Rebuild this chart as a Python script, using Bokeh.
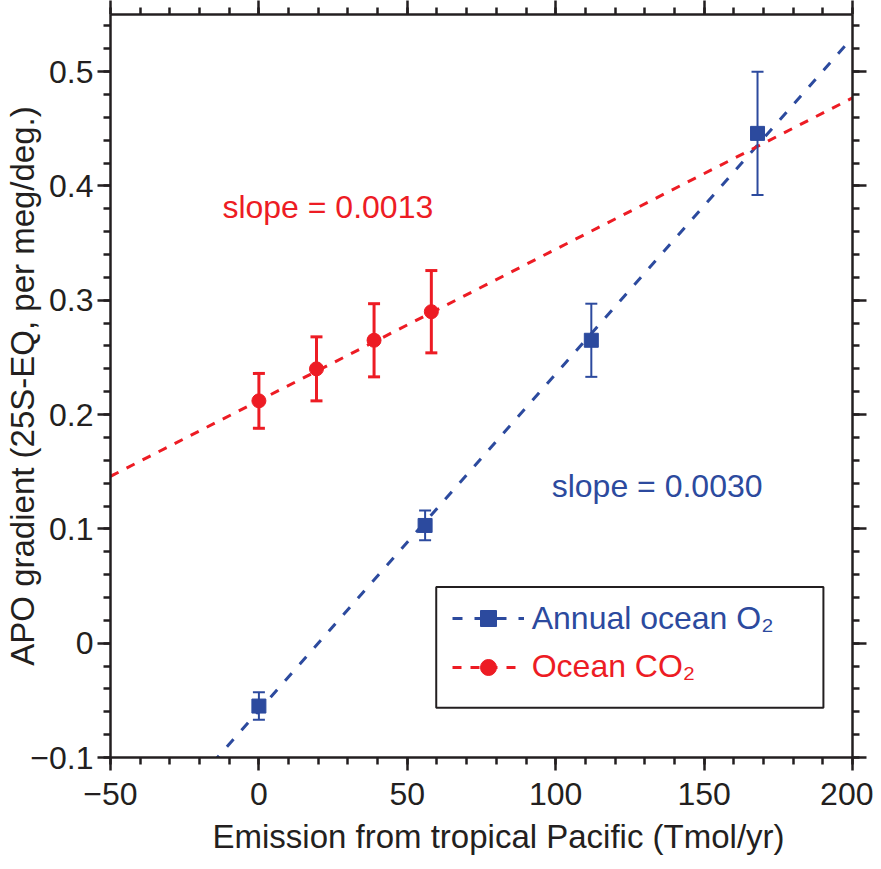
from bokeh.plotting import figure
from bokeh.models import (ColumnDataSource, Whisker, TeeHead, LinearAxis, FixedTicker,
                          Legend, LegendItem, BoxAnnotation, Label, Range1d, Title,
                          CustomLabelingPolicy)
from bokeh.embed import file_html
from bokeh.resources import INLINE

# ---------------- data ----------------
o2_emission = [0, 56, 112, 168]
o2_gradient = [-0.055, 0.103, 0.265, 0.446]
o2_error = [0.012, 0.013, 0.032, 0.054]

co2_emission = [0, 19.4, 38.8, 58.1]
co2_gradient = [0.212, 0.240, 0.265, 0.290]
co2_error = [0.024, 0.028, 0.032, 0.036]

fit_emission = [-50, 200]
o2_fit = [-0.206, 0.530]
co2_fit = [0.146, 0.477]

x_ticks = [-50, 0, 50, 100, 150, 200]
x_tick_labels = ["\u221250", "0", "50", "100", "150", "200"]
y_ticks = [-0.1, 0, 0.1, 0.2, 0.3, 0.4, 0.5]
y_tick_labels = ["\u22120.1", "0", "0.1", "0.2", "0.3", "0.4", "0.5"]
x_minor = [-50 + 10 * i for i in range(26)]
y_minor = [round(-0.1 + 0.02 * i, 4) for i in range(33)]

BLUE = "#2C4A9E"
RED = "#ED1C24"
INK = "#231F20"
FONT = "Liberation Sans"

p = figure(width=873, height=869, x_range=Range1d(-50, 200), y_range=Range1d(-0.1, 0.55),
           output_backend="svg", toolbar_location=None,
           min_border_left=110, min_border_right=21, min_border_top=14, min_border_bottom=112,
           y_axis_label="APO gradient (25S-EQ, per meg/deg.)")
p.outline_line_color = None
p.xgrid.visible = False
p.ygrid.visible = False
p.background_fill_color = "white"
p.border_fill_color = "white"

top_axis = LinearAxis()
right_axis = LinearAxis()
p.add_layout(top_axis, "above")
p.add_layout(right_axis, "right")

xt = FixedTicker(ticks=x_ticks, minor_ticks=x_minor)
yt = FixedTicker(ticks=y_ticks, minor_ticks=y_minor)

no_labels = CustomLabelingPolicy(code="""
for (const i of indices) { indices.unset(i) }
return indices
""")


def style(ax, ticker, labels, ticks, major_out, minor_out, show):
    ax.ticker = ticker
    ax.axis_line_color = INK
    ax.axis_line_width = 2.5
    ax.major_tick_line_color = INK
    ax.minor_tick_line_color = INK
    ax.major_tick_line_width = 2.5
    ax.minor_tick_line_width = 2.5
    ax.major_tick_in = 0
    ax.minor_tick_in = 0
    ax.major_tick_out = major_out
    ax.minor_tick_out = minor_out
    ax.major_label_text_font = FONT
    ax.major_label_text_color = INK
    ax.axis_label_text_font = FONT
    ax.axis_label_text_font_style = "normal"
    ax.axis_label_text_color = INK
    ax.axis_label_text_font_size = "33px"
    if show:
        ax.major_label_text_font_size = "32px"
        ax.major_label_overrides = dict(zip(ticks, labels))
    else:
        ax.major_label_text_font_size = "0px"
        ax.major_label_standoff = 0
        ax.major_label_policy = no_labels


for ax in p.below:
    style(ax, xt, x_tick_labels, x_ticks, 13, 7, True)
    ax.major_label_standoff = 12
for ax in p.left:
    style(ax, yt, y_tick_labels, y_ticks, 13, 7, True)
    ax.major_label_standoff = 4
    ax.axis_label_standoff = -14
style(top_axis, xt, x_tick_labels, x_ticks, 14, 7, False)
style(right_axis, yt, y_tick_labels, y_ticks, 14, 7, False)

# x-axis title (set slightly right of centre, as in the original)
p.add_layout(Title(text="Emission from tropical Pacific (Tmol/yr)", align="left", offset=102,
                   standoff=17, text_font=FONT, text_font_size="33px",
                   text_font_style="normal", text_color=INK), "below")

# ---------------- fit lines ----------------
o2_line = p.line(fit_emission, o2_fit, line_color=BLUE, line_width=3, line_dash="10 12")
co2_line = p.line(fit_emission, co2_fit, line_color=RED, line_width=3, line_dash="9 9")

# ---------------- error bars ----------------
o2_src = ColumnDataSource(dict(
    x=o2_emission, y=o2_gradient,
    lower=[g - e for g, e in zip(o2_gradient, o2_error)],
    upper=[g + e for g, e in zip(o2_gradient, o2_error)]))
co2_src = ColumnDataSource(dict(
    x=co2_emission, y=co2_gradient,
    lower=[g - e for g, e in zip(co2_gradient, co2_error)],
    upper=[g + e for g, e in zip(co2_gradient, co2_error)]))

p.add_layout(Whisker(source=o2_src, base="x", upper="upper", lower="lower", dimension="height",
                     line_color=BLUE, line_width=2, level="glyph",
                     upper_head=TeeHead(size=12, line_color=BLUE, line_width=2),
                     lower_head=TeeHead(size=12, line_color=BLUE, line_width=2)))
p.add_layout(Whisker(source=co2_src, base="x", upper="upper", lower="lower", dimension="height",
                     line_color=RED, line_width=3, level="glyph",
                     upper_head=TeeHead(size=12, line_color=RED, line_width=3),
                     lower_head=TeeHead(size=12, line_color=RED, line_width=3)))

# ---------------- points ----------------
o2_pts = p.scatter("x", "y", source=o2_src, marker="square", size=14,
                   fill_color=BLUE, line_color=BLUE, level="overlay")
co2_pts = p.scatter("x", "y", source=co2_src, marker="circle", size=14,
                    fill_color=RED, line_color=RED, level="overlay")

# ---------------- slope labels ----------------
p.add_layout(Label(x=-12.3, y=0.3819, text="slope = 0.0013", text_font=FONT,
                   text_font_size="32px", text_color=RED, text_baseline="alphabetic",
                   text_align="left"))
p.add_layout(Label(x=98.65, y=0.1378, text="slope = 0.0030", text_font=FONT,
                   text_font_size="32px", text_color=BLUE, text_baseline="alphabetic",
                   text_align="left"))

# ---------------- legend ----------------
p.add_layout(BoxAnnotation(left=59.75, right=190.2, bottom=-0.0564, top=0.0491,
                           fill_color=None, fill_alpha=0, line_color=INK, line_alpha=1,
                           line_width=2))


def make_legend(label, renderers, color, loc):
    lg = Legend(items=[LegendItem(label=label, renderers=renderers)], location=loc,
                border_line_color=None, background_fill_alpha=0, padding=0, margin=0,
                glyph_width=72, glyph_height=40, label_height=40, label_standoff=8,
                label_text_font=FONT, label_text_font_size="32px", label_text_color=color)
    p.add_layout(lg)


make_legend("Annual ocean O\u2082", [o2_line, o2_pts], BLUE, (341.7, 118.7))
make_legend("Ocean CO\u2082", [co2_line, co2_pts], RED, (341.7, 70.3))

open("out.html", "w").write(file_html(p, INLINE))
